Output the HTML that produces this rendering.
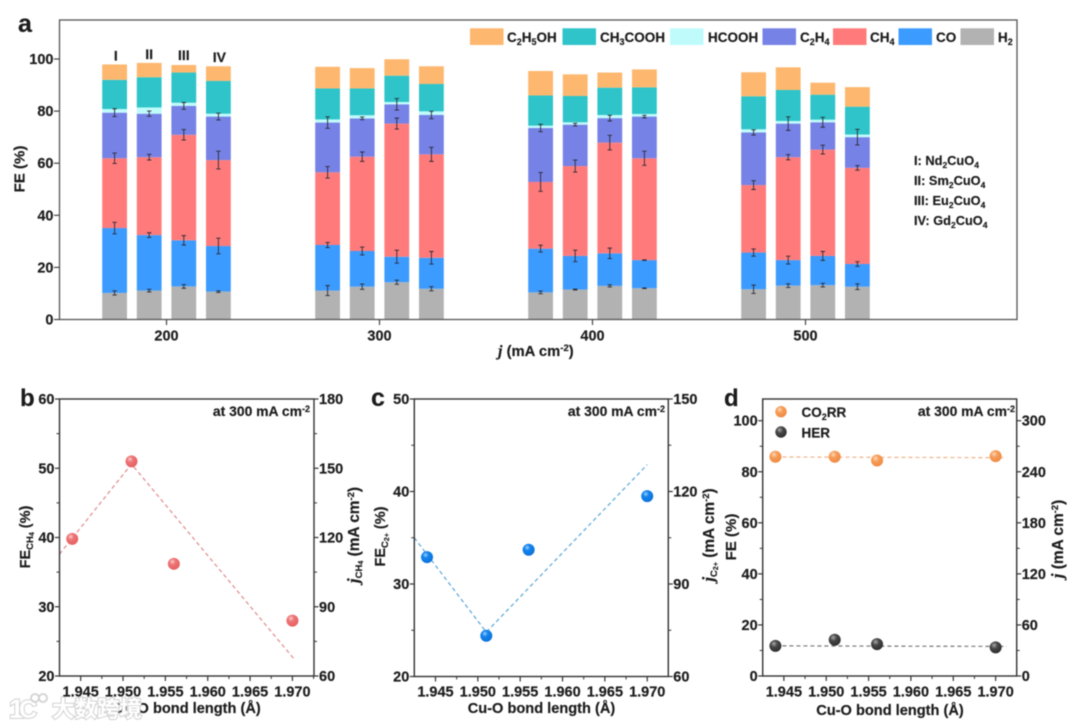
<!DOCTYPE html>
<html lang="en">
<head>
<meta charset="utf-8">
<title>FE chart</title>
<style>
html,body{margin:0;padding:0;background:#fff;width:1080px;height:726px;overflow:hidden}
svg{display:block;filter:blur(0.4px)}
text{font-family:"Liberation Sans","Noto Sans CJK SC",sans-serif;font-weight:700;fill:#1c1c1c;stroke:#1c1c1c;stroke-width:0.18}
</style>
</head>
<body>
<svg id="figure" xmlns="http://www.w3.org/2000/svg" width="1080" height="726" viewBox="0 0 1080 726">
<defs>
<radialGradient id="ballRed" cx="38%" cy="32%" r="70%"><stop offset="0" stop-color="#fbd0d0"/><stop offset="0.35" stop-color="#ee7677"/><stop offset="1" stop-color="#e45f60"/></radialGradient>
<radialGradient id="ballBlue" cx="38%" cy="32%" r="70%"><stop offset="0" stop-color="#9fd2ff"/><stop offset="0.35" stop-color="#1484ee"/><stop offset="1" stop-color="#0b70d8"/></radialGradient>
<radialGradient id="ballOrange" cx="38%" cy="32%" r="70%"><stop offset="0" stop-color="#fdd9b8"/><stop offset="0.4" stop-color="#f69c58"/><stop offset="1" stop-color="#ee8a42"/></radialGradient>
<radialGradient id="ballBlack" cx="38%" cy="32%" r="70%"><stop offset="0" stop-color="#aaaaaa"/><stop offset="0.4" stop-color="#484848"/><stop offset="1" stop-color="#2c2c2c"/></radialGradient>
</defs>

<g id="layerA"></g>
<g id="layerB"></g>
<g id="layerC"></g>
<g id="layerD"></g>

<text x="18" y="32" font-size="25">a</text>
<text x="20" y="406" font-size="24">b</text>
<text x="371" y="406" font-size="25">c</text>
<text x="724" y="406" font-size="24">d</text>

<text transform="translate(24.5 169) rotate(-90)" text-anchor="middle" font-size="15">FE (%)</text>
<text x="498" y="356" font-size="14.8"><tspan font-style="italic" font-family="Liberation Serif" font-size="16">j</tspan> (mA cm<tspan font-size="9.5" dy="-5">-2</tspan><tspan dy="5">)</tspan></text>

<text x="507" y="42" font-size="13.5">C<tspan font-size="9" dy="3">2</tspan><tspan dy="-3">H</tspan><tspan font-size="9" dy="3">5</tspan><tspan dy="-3">OH</tspan></text>
<text x="600" y="42" font-size="13.5">CH<tspan font-size="9" dy="3">3</tspan><tspan dy="-3">COOH</tspan></text>
<text x="708" y="42" font-size="13.5">HCOOH</text>
<text x="800" y="42" font-size="13.5">C<tspan font-size="9" dy="3">2</tspan><tspan dy="-3">H</tspan><tspan font-size="9" dy="3">4</tspan></text>
<text x="870" y="42" font-size="13.5">CH<tspan font-size="9" dy="3">4</tspan></text>
<text x="936" y="42" font-size="13.5">CO</text>
<text x="998" y="42" font-size="13.5">H<tspan font-size="9" dy="3">2</tspan></text>

<text x="914" y="165" font-size="12.8">I: Nd<tspan font-size="8.5" dy="3">2</tspan><tspan dy="-3">CuO</tspan><tspan font-size="8.5" dy="3">4</tspan></text>
<text x="914" y="185" font-size="12.8">II: Sm<tspan font-size="8.5" dy="3">2</tspan><tspan dy="-3">CuO</tspan><tspan font-size="8.5" dy="3">4</tspan></text>
<text x="914" y="205" font-size="12.8">III: Eu<tspan font-size="8.5" dy="3">2</tspan><tspan dy="-3">CuO</tspan><tspan font-size="8.5" dy="3">4</tspan></text>
<text x="914" y="225" font-size="12.8">IV: Gd<tspan font-size="8.5" dy="3">2</tspan><tspan dy="-3">CuO</tspan><tspan font-size="8.5" dy="3">4</tspan></text>

<text transform="translate(30 537) rotate(-90)" text-anchor="middle" font-size="14.5">FE<tspan font-size="9.5" dy="3">CH</tspan><tspan font-size="7" dy="1">4</tspan><tspan dy="-4"> (%)</tspan></text>
<text transform="translate(359 535) rotate(-90)" text-anchor="middle" font-size="15.4"><tspan font-style="italic" font-family="Liberation Serif" font-size="17">j</tspan><tspan font-size="9.5" dy="3">CH</tspan><tspan font-size="7" dy="1">4</tspan><tspan dy="-4"> (mA cm</tspan><tspan font-size="9.5" dy="-5">-2</tspan><tspan dy="5">)</tspan></text>
<text x="187" y="713" text-anchor="middle" font-size="14.6">Cu-O bond length (Å)</text>
<text x="310" y="416" text-anchor="end" font-size="13.9">at 300 mA cm<tspan font-size="9" dy="-4">-2</tspan></text>

<text transform="translate(385 536.5) rotate(-90)" text-anchor="middle" font-size="14.5">FE<tspan font-size="9.5" dy="3">C</tspan><tspan font-size="7" dy="1">2+</tspan><tspan dy="-4"> (%)</tspan></text>
<text transform="translate(714 535) rotate(-90)" text-anchor="middle" font-size="15.4"><tspan font-style="italic" font-family="Liberation Serif" font-size="17">j</tspan><tspan font-size="9.5" dy="3">C</tspan><tspan font-size="7" dy="1">2+</tspan><tspan dy="-4"> (mA cm</tspan><tspan font-size="9.5" dy="-5">-2</tspan><tspan dy="5">)</tspan></text>
<text x="541.5" y="713" text-anchor="middle" font-size="14.6">Cu-O bond length (Å)</text>
<text x="665" y="416" text-anchor="end" font-size="13.9">at 300 mA cm<tspan font-size="9" dy="-4">-2</tspan></text>

<text transform="translate(736 537) rotate(-90)" text-anchor="middle" font-size="15">FE (%)</text>
<text transform="translate(1063 539) rotate(-90)" text-anchor="middle" font-size="15.4"><tspan font-style="italic" font-family="Liberation Serif" font-size="17">j</tspan> (mA cm<tspan font-size="9.5" dy="-5">-2</tspan><tspan dy="5">)</tspan></text>
<text x="890" y="715" text-anchor="middle" font-size="14.6">Cu-O bond length (Å)</text>
<text x="1015" y="416" text-anchor="end" font-size="13.9">at 300 mA cm<tspan font-size="9" dy="-4">-2</tspan></text>
<circle cx="781" cy="411.7" r="5.7" fill="url(#ballOrange)"/>
<text x="801.5" y="417" font-size="13.5">CO<tspan font-size="9" dy="3">2</tspan><tspan dy="-3">RR</tspan></text>
<circle cx="781" cy="432" r="5.7" fill="url(#ballBlack)"/>
<text x="801.5" y="437.5" font-size="13.5">HER</text>

<g>
<text x="52" y="717" font-size="22.5" style="fill:#ffffff;stroke:#d2d2d2;stroke-width:2;paint-order:stroke;font-weight:700">大数跨境</text>
<text x="9" y="718" font-size="27" style="fill:#ffffff;stroke:#d2d2d2;stroke-width:2;paint-order:stroke;font-weight:700">1</text>
<text x="19" y="718" font-size="25" style="fill:#ffffff;stroke:#d2d2d2;stroke-width:2;paint-order:stroke;font-weight:700">C</text>
<circle cx="35" cy="698" r="4" fill="none" stroke="#d2d2d2" stroke-width="1.8"/>
<circle cx="43" cy="698" r="4" fill="none" stroke="#d2d2d2" stroke-width="1.8"/>
</g>
</svg>

<script>
// ---- Panel a data ----
const densities = [200, 300, 400, 500];
const catalysts = ['I', 'II', 'III', 'IV'];
const feTicks = [0, 20, 40, 60, 80, 100];
const h2Values = [10.2,11.1,12.7,10.7, 11.1,12.6,14.3,11.8, 10.4,11.5,12.9,12, 11.6,13,13.2,12.6];
const coValues = [24.9,21.3,17.7,17.5, 17.5,13.7,9.8,11.9, 16.8,12.9,12.5,10.8, 14.1,9.8,11.2,8.7];
const ch4Values = [26.8,29.9,40.5,33, 27.9,36.2,51.1,39.7, 25.6,34.5,42.5,39.1, 25.9,39.5,40.8,36.9];
const c2h4Values = [17.5,16.7,11.1,16.7, 19.1,14.7,7.4,15.1, 20.7,15.9,9.4,16, 20.2,12.9,10.5,11.8];
const hcoohValues = [1.4,2.4,1.2,1.1, 1.2,1.2,0.9,1.4, 0.9,0.9,1.2,1, 1.2,1,1,1];
const ch3coohValues = [11.2,11.6,11.6,12.6, 11.9,10.3,10.1,10.5, 11.6,10.1,10.5,10.2, 12.7,11.9,9.6,10.7];
const c2h5ohValues = [5.9,5.5,2.9,5.6, 8.3,7.8,6.3,6.8, 9.4,8.3,5.8,6.9, 9.2,8.7,4.6,7.5];
const h2Errors = [0.8,0.5,0.7,0.3, 1.9,1,0.8,0.8, 0.5,0.2,0.4,0.1, 1.6,0.7,0.7,1.1];
const coErrors = [2.2,0.9,1.8,3, 1,1.5,2.5,2.4, 1.3,2.2,2,0.1, 1.4,1.5,1.7,0.9];
const ch4Errors = [2,1.1,2,3.4, 2.2,1.8,2.1,2.7, 3.6,2.3,2.8,2.7, 1.7,1,1.7,0.9];
const c2h4Errors = [1.5,1,1.3,1.3, 2.2,0.5,2.2,1.4, 1.4,0.5,1.1,0.5, 1,2.6,1.9,3];
const seriesNames = ['h2', 'co', 'ch4', 'c2h4', 'hcooh', 'ch3cooh', 'c2h5oh'];
const seriesColors = ['#b2b2b2', '#3c9bff', '#ff7b7b', '#7682e6', '#c0fbfb', '#2ec4c9', '#fdb76e'];
const legendOrder = ['c2h5oh', 'ch3cooh', 'hcooh', 'c2h4', 'ch4', 'co', 'h2'];

// ---- Panels b, c, d data ----
const bondLengths = [1.944, 1.951, 1.956, 1.970];
const bondTicks = [1.945, 1.950, 1.955, 1.960, 1.965, 1.970];
const bFeValues = [39.8, 51, 36.2, 28];
const bTrendX = [1.9425, 1.951, 1.9703];
const bTrendY = [37.6, 50.6, 22.3];
const bLeftTicks = [20, 30, 40, 50, 60];
const bRightTicks = [60, 90, 120, 150, 180];
const cFeValues = [32.9, 24.4, 33.7, 39.5];
const cTrendX = [1.9425, 1.951, 1.970];
const cTrendY = [35, 24.8, 42.9];
const cLeftTicks = [20, 30, 40, 50];
const cRightTicks = [60, 90, 120, 150];
const dCo2rrValues = [85.9, 85.9, 84.4, 86.1];
const dHerValues = [11.8, 14.2, 12.5, 11.2];
const dCo2rrTrendX = [1.944, 1.9713];
const dCo2rrTrendY = [85.8, 85.5];
const dHerTrendX = [1.944, 1.9713];
const dHerTrendY = [11.8, 11.6];
const dLeftTicks = [0, 20, 40, 60, 80, 100];
const dRightTicks = [0, 60, 120, 180, 240, 300];

const NS = 'http://www.w3.org/2000/svg';
function mk(tag, parent, attrs) {
  const el = document.createElementNS(NS, tag);
  for (const k in attrs) el.setAttribute(k, attrs[k]);
  parent.appendChild(el);
  return el;
}

// ---- Panel a ----
(function () {
  const g = document.getElementById('layerA');
  const left = 59.5, right = 1017, top = 20, bottom = 319.5;
  const yA = v => bottom - v * 2.605;
  const xCat = d => 166.5 + (d - 200) * 2.13;
  const xBar = (gi, mi) => xCat(densities[gi]) + (mi - 1.5) * 34.6;
  const barW = 24.8;
  const allSeries = [h2Values, coValues, ch4Values, c2h4Values, hcoohValues, ch3coohValues, c2h5ohValues];
  const allErrors = [h2Errors, coErrors, ch4Errors, c2h4Errors];

  densities.forEach((d, gi) => {
    catalysts.forEach((c, mi) => {
      const idx = gi * catalysts.length + mi;
      const cx = xBar(gi, mi);
      let cum = 0;
      const tops = [];
      allSeries.forEach((vals, si) => {
        const y0 = yA(cum);
        cum += vals[idx];
        const y1 = yA(cum);
        tops.push(cum);
        const r = mk('rect', g, { x: cx - barW / 2, y: y1, width: barW, height: y0 - y1, fill: seriesColors[si] });
        
        
      });
      allErrors.forEach((errs, si) => {
        const yc = tops[si], e = errs[idx];
        const eb = mk('path', g, {
          d: 'M' + (cx - 2.2) + ' ' + yA(yc + e) + 'H' + (cx + 2.2) + 'M' + cx + ' ' + yA(yc + e) + 'V' + yA(yc - e) + 'M' + (cx - 2.2) + ' ' + yA(yc - e) + 'H' + (cx + 2.2),
          stroke: '#2a2a33', 'stroke-width': 0.9, fill: 'none'
        });
        
        
      });
    });
  });

  const frame = mk('rect', g, { x: left, y: top, width: right - left, height: bottom - top, fill: 'none', stroke: '#565656', 'stroke-width': 1.3 });
  
  

  feTicks.forEach(v => {
    const t = mk('line', g, { x1: 54, x2: left, y1: yA(v), y2: yA(v), stroke: '#444', 'stroke-width': 1.2 });
    
    
    const l = mk('text', g, { x: 53.5, y: yA(v) + 5, 'text-anchor': 'end', 'font-size': 14.5 });
    
    
    l.textContent = v;
  });
  densities.forEach(d => {
    const t = mk('line', g, { x1: xCat(d), x2: xCat(d), y1: bottom, y2: bottom + 5.5, stroke: '#444', 'stroke-width': 1.2 });
    
    
    const l = mk('text', g, { x: xCat(d), y: 340.5, 'text-anchor': 'middle', 'font-size': 14.5 });
    
    
    l.textContent = d;
  });

  const catBaselines = [60.5, 59, 60, 62];
  const catShift = [1.2, 0, 0, 1];
  catalysts.forEach((c, mi) => {
    const l = mk('text', g, { x: xBar(0, mi) + catShift[mi], y: catBaselines[mi], 'text-anchor': 'middle', 'font-size': 14 });
    
    
    l.textContent = c;
  });

  const swatchX = [470, 562.5, 670, 762.5, 833, 898.5, 960.5];
  legendOrder.forEach((n, i) => {
    const sw = mk('rect', g, { x: swatchX[i], y: 28.3, width: 33.5, height: 16.7, fill: seriesColors[seriesNames.indexOf(n)] });
    
    
  });
})();

// ---- Panels b, c, d ----
function scatterPanel(cfg) {
  const g = document.getElementById(cfg.layer);
  const xScale = v => cfg.left + (v - 1.9425) * 8470;
  const yScale = v => cfg.bottom - (v - cfg.yMin) / (cfg.yMax - cfg.yMin) * (cfg.bottom - cfg.top);
  const yRight = v => cfg.bottom - (v - cfg.rMin) / (cfg.rMax - cfg.rMin) * (cfg.bottom - cfg.top);

  cfg.series.forEach(s => {
    const d = s.trendX.map((x, i) => (i ? 'L' : 'M') + xScale(x) + ' ' + yScale(s.trendY[i])).join('');
    const line = mk('path', g, { d: d, fill: 'none', stroke: s.lineColor, 'stroke-width': 1.2, 'stroke-dasharray': '4 3' });
    
    
  });

  const frame = mk('rect', g, { x: cfg.left, y: cfg.top, width: cfg.right - cfg.left, height: cfg.bottom - cfg.top, fill: 'none', stroke: '#333', 'stroke-width': 1.4 });
  
  

  bondTicks.forEach(v => {
    const x = xScale(v);
    const t = mk('line', g, { x1: x, x2: x, y1: cfg.bottom, y2: cfg.bottom + 5, stroke: '#333', 'stroke-width': 1.2 });
    
    
    const l = mk('text', g, { x: x, y: 696.5, 'text-anchor': 'middle', 'font-size': 14.5 });
    
    
    l.textContent = v.toFixed(3);
    const mx = xScale(v + 0.0025);
    if (mx < cfg.right) {
      const m = mk('line', g, { x1: mx, x2: mx, y1: cfg.bottom, y2: cfg.bottom + 3, stroke: '#333', 'stroke-width': 1 });
      
      
    }
  });

  cfg.leftTicks.forEach(v => {
    const y = yScale(v);
    const t = mk('line', g, { x1: cfg.left - 4.5, x2: cfg.left, y1: y, y2: y, stroke: '#333', 'stroke-width': 1.2 });
    
    
    const l = mk('text', g, { x: cfg.left - 5, y: y + 5, 'text-anchor': 'end', 'font-size': 14.5 });
    
    
    l.textContent = v;
    const step = cfg.leftTicks[1] - cfg.leftTicks[0];
    if (y - (step / 2) * (cfg.bottom - cfg.top) / (cfg.yMax - cfg.yMin) > cfg.top) {
      const my = yScale(v + step / 2);
      const m = mk('line', g, { x1: cfg.left - 3, x2: cfg.left, y1: my, y2: my, stroke: '#333', 'stroke-width': 1 });
      
      
    }
  });

  cfg.rightTicks.forEach(v => {
    const y = yRight(v);
    const t = mk('line', g, { x1: cfg.right, x2: cfg.right + 4.5, y1: y, y2: y, stroke: '#333', 'stroke-width': 1.2 });
    
    
    const l = mk('text', g, { x: cfg.right + 5, y: y + 5, 'font-size': 14.5 });
    
    
    l.textContent = v;
    const step = cfg.rightTicks[1] - cfg.rightTicks[0];
    if (y - (step / 2) * (cfg.bottom - cfg.top) / (cfg.rMax - cfg.rMin) > cfg.top) {
      const my = yRight(v + step / 2);
      const m = mk('line', g, { x1: cfg.right, x2: cfg.right + 3, y1: my, y2: my, stroke: '#333', 'stroke-width': 1 });
      
      
    }
  });

  cfg.series.forEach(s => {
    s.values.forEach((v, i) => {
      const c = mk('circle', g, { cx: xScale(bondLengths[i]), cy: yScale(v), r: 6, fill: s.fill });
      
      
    });
  });
}

scatterPanel({
  layer: 'layerB', left: 59.5, right: 314, top: 399, bottom: 676,
  yMin: 20, yMax: 60, rMin: 60, rMax: 180,
  leftTicks: bLeftTicks, rightTicks: bRightTicks,
  series: [{ name: 'fe-ch4', values: bFeValues, trendX: bTrendX, trendY: bTrendY, fill: 'url(#ballRed)', lineColor: '#e08a8a' }]
});
scatterPanel({
  layer: 'layerC', left: 414.3, right: 668.3, top: 399, bottom: 676.5,
  yMin: 20, yMax: 50, rMin: 60, rMax: 150,
  leftTicks: cLeftTicks, rightTicks: cRightTicks,
  series: [{ name: 'fe-c2plus', values: cFeValues, trendX: cTrendX, trendY: cTrendY, fill: 'url(#ballBlue)', lineColor: '#5aa6d8' }]
});
scatterPanel({
  layer: 'layerD', left: 762.7, right: 1016.7, top: 399, bottom: 676,
  yMin: 0, yMax: 108.5, rMin: 0, rMax: 325.5,
  leftTicks: dLeftTicks, rightTicks: dRightTicks,
  series: [
    { name: 'co2rr', values: dCo2rrValues, trendX: dCo2rrTrendX, trendY: dCo2rrTrendY, fill: 'url(#ballOrange)', lineColor: '#f0b48a' },
    { name: 'her', values: dHerValues, trendX: dHerTrendX, trendY: dHerTrendY, fill: 'url(#ballBlack)', lineColor: '#777' }
  ]
});
</script>
</body>
</html>
